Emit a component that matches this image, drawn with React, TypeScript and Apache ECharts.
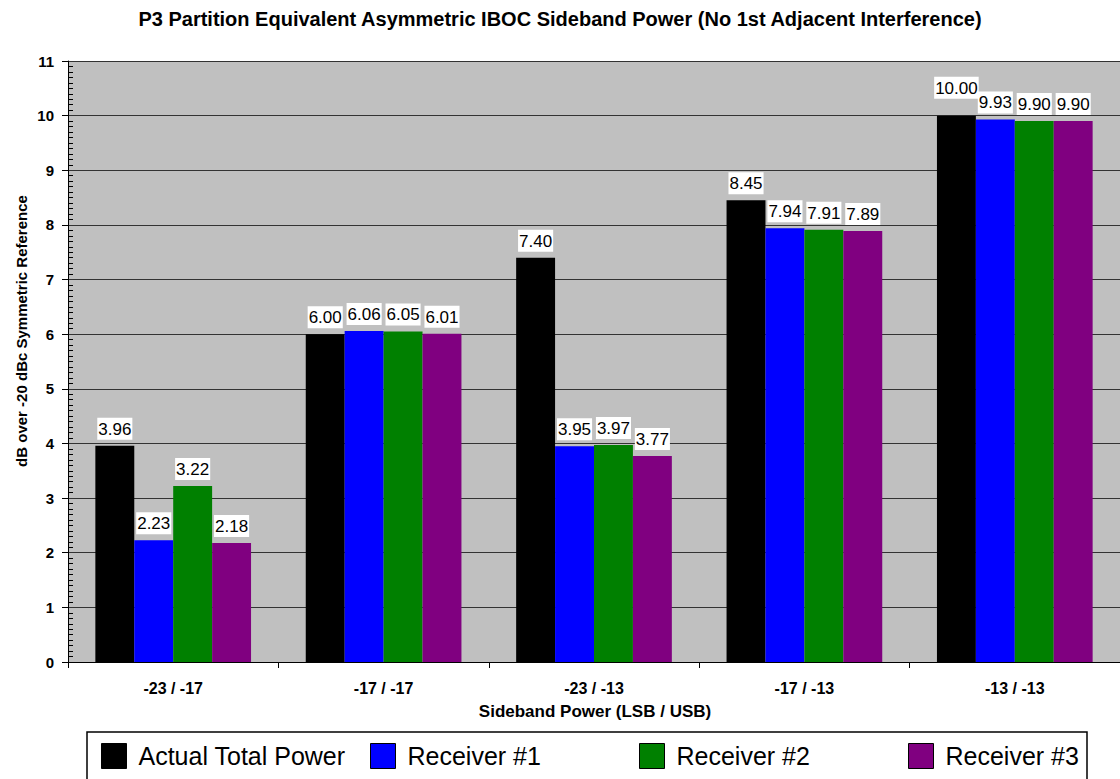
import React, { useEffect, useRef } from "react";
import * as echarts from "echarts";

const categories = ["-23 / -17", "-17 / -17", "-23 / -13", "-17 / -13", "-13 / -13"];
const seriesNames = ["Actual Total Power", "Receiver #1", "Receiver #2", "Receiver #3"];
const actualTotal = [3.96, 6.0, 7.4, 8.45, 10.0];
const receiver1 = [2.23, 6.06, 3.95, 7.94, 9.93];
const receiver2 = [3.22, 6.05, 3.97, 7.91, 9.9];
const receiver3 = [2.18, 6.01, 3.77, 7.89, 9.9];
const yTicks = [0, 11, 1];

const FONT = "'Liberation Sans', Arial, sans-serif";
const colors = ["#000000", "#0000ff", "#008000", "#800080"];
const legendLefts = [101, 370, 639, 908];

export default function App() {
  const ref = useRef<HTMLDivElement>(null);
  useEffect(() => {
    if (!ref.current) return;
    const chart = echarts.init(ref.current, undefined, { renderer: "svg" });
    const allValues = [actualTotal, receiver1, receiver2, receiver3];
    const series = allValues.map((vals, s) => ({
      name: seriesNames[s],
      type: "bar",
      barGap: "0%",
      barCategoryGap: "26%",
      itemStyle: { color: colors[s] },
      label: {
        show: true,
        position: "top",
        distance: 6,
        formatter: (p: any) => Number(p.value).toFixed(2),
        fontFamily: FONT,
        fontSize: 17,
        color: "#000",
        backgroundColor: "#ffffff",
        padding: [3, 1, 2, 1],
      },
      data: vals.map((v, i) =>
        s === 0 && i === vals.length - 1 ? { value: v, label: { offset: [0, -11] } } : v
      ),
    }));
    const legends = seriesNames.map((n, i) => ({
      data: [n],
      left: legendLefts[i],
      top: 743,
      padding: 0,
      orient: "horizontal",
      icon: "rect",
      itemWidth: 25,
      itemHeight: 25,
      selectedMode: false,
      itemStyle: { borderColor: "#000", borderWidth: 1 },
      textStyle: { fontFamily: FONT, fontSize: 25, color: "#000", padding: [0, 0, 0, 7] },
    }));
    chart.setOption({
      animation: false,
      backgroundColor: "#ffffff",
      grid: {
        left: 68,
        top: 61,
        width: 1055,
        height: 601,
        show: true,
        backgroundColor: "#c0c0c0",
        borderWidth: 0,
      },
      legend: legends,
      xAxis: {
        type: "category",
        data: categories,
        axisLine: { lineStyle: { color: "#000", width: 1 } },
        axisTick: { show: true, length: 6, lineStyle: { color: "#000" } },
        axisLabel: { fontFamily: FONT, fontSize: 16, fontWeight: "bold", color: "#000", margin: 18 },
      },
      yAxis: [
        {
          type: "value",
          min: yTicks[0],
          max: yTicks[1],
          interval: yTicks[2],
          axisLine: { show: true, lineStyle: { color: "#000", width: 1 } },
          axisTick: { show: true, length: 6, lineStyle: { color: "#000" } },
          axisLabel: { fontFamily: FONT, fontSize: 15, fontWeight: "bold", color: "#000", margin: 14 },
          splitLine: { show: true, lineStyle: { color: "#333", width: 1 } },
        },
        {
          type: "value",
          position: "left",
          min: yTicks[0],
          max: yTicks[1],
          interval: yTicks[2],
          axisLine: { show: false },
          axisTick: { show: false, inside: true },
          axisLabel: { show: false },
          splitLine: { show: false },
          minorTick: { show: true, splitNumber: 10, length: 5, lineStyle: { color: "#000" } },
        },
      ],
      series,
      graphic: [
        {
          type: "text",
          x: 560,
          y: 19,
          style: {
            text: "P3 Partition Equivalent Asymmetric IBOC Sideband Power (No 1st Adjacent Interference)",
            font: `bold 20px ${FONT}`,
            fill: "#000",
            textAlign: "center",
            textVerticalAlign: "middle",
          },
        },
        {
          type: "text",
          x: 21,
          y: 331,
          rotation: Math.PI / 2,
          style: {
            text: "dB over -20 dBc Symmetric Reference",
            font: `bold 15px ${FONT}`,
            fill: "#000",
            textAlign: "center",
            textVerticalAlign: "middle",
          },
        },
        {
          type: "text",
          x: 595,
          y: 711,
          style: {
            text: "Sideband Power (LSB / USB)",
            font: `bold 17px ${FONT}`,
            fill: "#000",
            textAlign: "center",
            textVerticalAlign: "middle",
          },
        },
        {
          type: "rect",
          z: -1,
          shape: { x: 87, y: 732, width: 1000, height: 70 },
          style: { fill: "#fff", stroke: "#000", lineWidth: 1.5 },
        },
      ],
    });
    return () => chart.dispose();
  }, []);
  return (
    <div
      ref={ref}
      style={{ position: "absolute", left: 0, top: 0, width: 1120, height: 779 }}
    />
  );
}
